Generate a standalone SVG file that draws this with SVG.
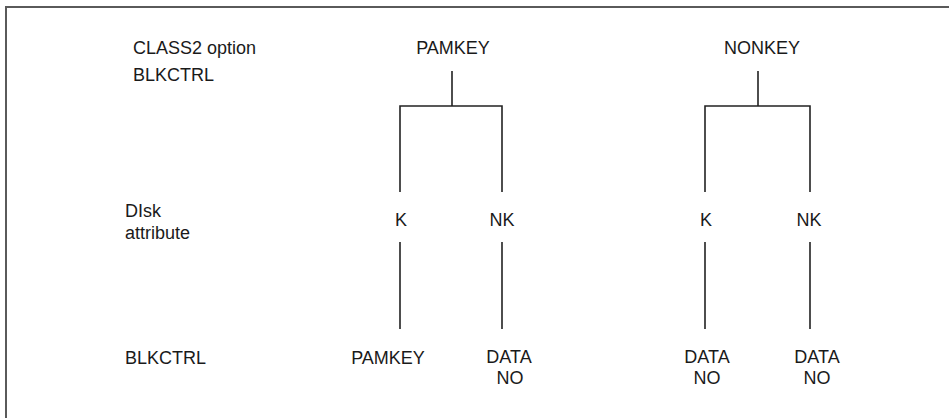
<svg xmlns="http://www.w3.org/2000/svg" width="949" height="418" viewBox="0 0 949 418">
<style>
text{font-family:"Liberation Sans",Arial,sans-serif;font-size:18px;fill:#1a1a1a}
.m{text-anchor:middle}
.c{stroke:#222;stroke-width:1.6;fill:none}
.f{stroke:#5a5a5a;stroke-width:2;fill:none}
</style>
<rect width="949" height="418" fill="#fff"/>
<path class="f" d="M6,418 V7 H949"/>
<g id="labels">
<text x="133" y="54">CLASS2 option</text>
<text x="133" y="81">BLKCTRL</text>
<text x="125" y="217">DIsk</text>
<text x="125" y="239">attribute</text>
<text x="125" y="364">BLKCTRL</text>
</g>
<g id="pamkey"><text class="m" x="453" y="54">PAMKEY</text></g>
<g id="nonkey"><text class="m" x="762" y="54">NONKEY</text></g>
<g id="pk-k"><text class="m" x="401" y="226">K</text></g>
<g id="pk-nk"><text class="m" x="502" y="226">NK</text></g>
<g id="nk-k"><text class="m" x="706" y="226">K</text></g>
<g id="nk-nk"><text class="m" x="809" y="226">NK</text></g>
<g id="res1"><text class="m" x="388" y="364">PAMKEY</text></g>
<g id="res2"><text class="m" x="509" y="363">DATA</text><text class="m" x="510" y="384">NO</text></g>
<g id="res3"><text class="m" x="707" y="363">DATA</text><text class="m" x="707" y="384">NO</text></g>
<g id="res4"><text class="m" x="817" y="363">DATA</text><text class="m" x="817" y="384">NO</text></g>
<g id="connectors">
<path class="c" d="M452,71 V106 M400,192 V106 H502 V192"/>
<path class="c" d="M758,71 V106 M705,192 V106 H810 V192"/>
<path class="c" d="M400,242 V329 M502,242 V329 M705,242 V329 M810,242 V329"/>
</g>
</svg>
